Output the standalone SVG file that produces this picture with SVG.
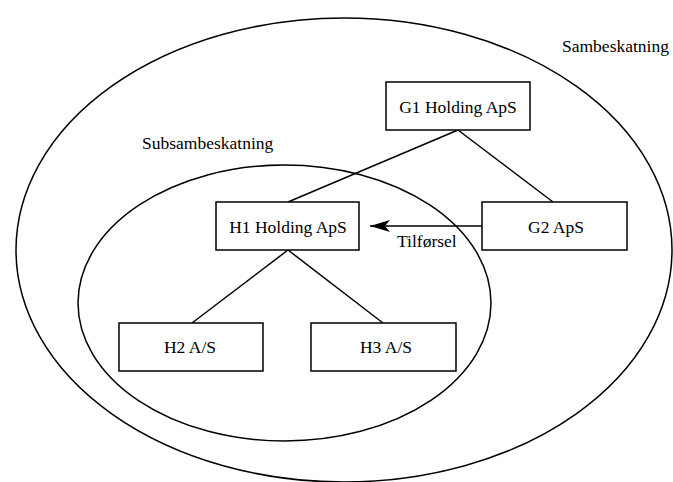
<svg xmlns="http://www.w3.org/2000/svg" width="673" height="482" viewBox="0 0 673 482">
  <style>
    .zone { fill: none; stroke: #000; stroke-width: 1.5; }
    .box { fill: #fff; stroke: #000; stroke-width: 1.5; }
    .edge { fill: none; stroke: #000; stroke-width: 1.5; }
    text { font-family: "Liberation Serif", "Times New Roman", serif; font-size: 17.5px; fill: #000; }
    .c { text-anchor: middle; }
  </style>
  <defs>
    <marker id="arrow" markerWidth="22" markerHeight="14" refX="20" refY="7" orient="auto" markerUnits="userSpaceOnUse">
      <path d="M0,1 L20,7 L0,13 L5,7 Z" fill="#000"/>
    </marker>
  </defs>

  <rect width="673" height="482" fill="#fff"/>

  <!-- group boundaries -->
  <g id="sambeskatning">
    <ellipse class="zone" cx="344" cy="250" rx="328" ry="232"/>
    <text x="562" y="52">Sambeskatning</text>
  </g>
  <g id="subsambeskatning">
    <ellipse class="zone" cx="284.5" cy="303" rx="206.5" ry="138"/>
    <text x="142" y="149">Subsambeskatning</text>
  </g>

  <!-- connectors -->
  <g id="connectors">
    <line class="edge" x1="458" y1="130" x2="288" y2="202"/>
    <line class="edge" x1="458" y1="130" x2="553" y2="202"/>
    <line class="edge" x1="288" y1="250" x2="192" y2="323"/>
    <line class="edge" x1="288" y1="250" x2="383" y2="323"/>
    <line class="edge" x1="482" y1="226" x2="370" y2="226" marker-end="url(#arrow)"/>
    <text x="397" y="247">Tilførsel</text>
  </g>

  <!-- companies -->
  <g id="g1">
    <rect class="box" x="386" y="82" width="144" height="48"/>
    <text class="c" x="458" y="113">G1 Holding ApS</text>
  </g>
  <g id="g2">
    <rect class="box" x="482" y="202" width="145" height="48"/>
    <text class="c" x="556" y="233">G2 ApS</text>
  </g>
  <g id="h1">
    <rect class="box" x="216" y="202" width="143" height="48"/>
    <text class="c" x="288" y="233">H1 Holding ApS</text>
  </g>
  <g id="h2">
    <rect class="box" x="119" y="323" width="144" height="48"/>
    <text class="c" x="190" y="353">H2 A/S</text>
  </g>
  <g id="h3">
    <rect class="box" x="311" y="323" width="145" height="48"/>
    <text class="c" x="386" y="353">H3 A/S</text>
  </g>
</svg>
